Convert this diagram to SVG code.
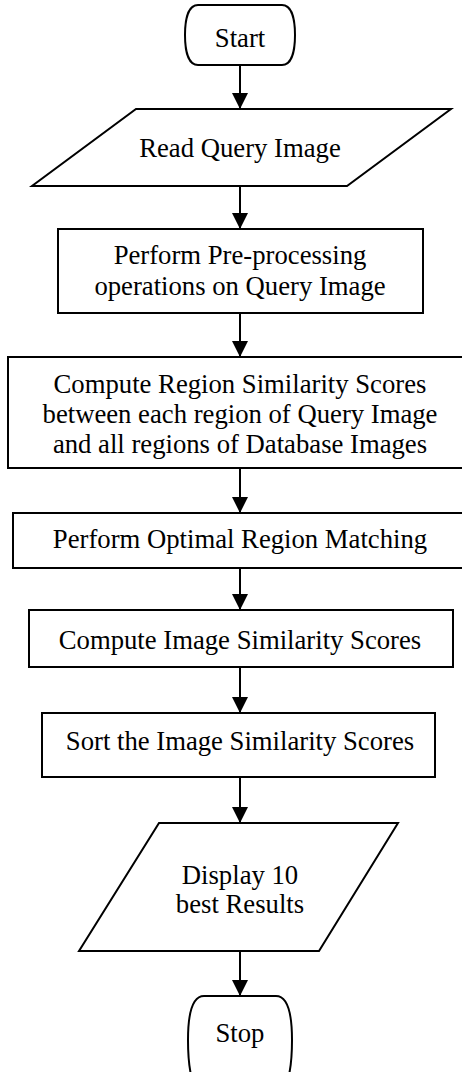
<svg xmlns="http://www.w3.org/2000/svg" width="462" height="1072" viewBox="0 0 462 1072">
<style>
.s{fill:#fff;stroke:#000;stroke-width:2}
.t{font-family:"Liberation Serif","Times New Roman",serif;font-size:26.7px;fill:#000;text-anchor:middle}
.c{stroke:#000;stroke-width:2;fill:none;marker-end:url(#ah)}
</style>
<defs>
<marker id="ah" markerUnits="userSpaceOnUse" markerWidth="18" markerHeight="16" refX="16" refY="8" orient="auto">
<path d="M0,0 L16,8 L0,16 Z" fill="#000"/>
</marker>
</defs>
<rect width="462" height="1072" fill="#fff"/>
<g id="connectors">
<line class="c" x1="240" y1="65" x2="240" y2="109"/>
<line class="c" x1="240" y1="186" x2="240" y2="229"/>
<line class="c" x1="240" y1="313" x2="240" y2="357"/>
<line class="c" x1="240" y1="468" x2="240" y2="513"/>
<line class="c" x1="240" y1="568" x2="240" y2="610"/>
<line class="c" x1="240" y1="667" x2="240" y2="713"/>
<line class="c" x1="240" y1="777" x2="240" y2="823"/>
<line class="c" x1="240" y1="951" x2="240" y2="996"/>
</g>
<g id="start">
<path class="s" d="M198,5 H282 C292,5 295,20 295,35 C295,50 292,65 282,65 H198 C188,65 185,50 185,35 C185,20 188,5 198,5 Z"/>
<text class="t" x="240" y="47">Start</text>
</g>
<g id="read">
<polygon class="s" points="136,109 451,109 347,186 32,186"/>
<text class="t" x="240" y="157">Read Query Image</text>
</g>
<g id="preprocess">
<rect class="s" x="58" y="229" width="365" height="84"/>
<text class="t" x="240" y="264">Perform Pre-processing</text>
<text class="t" x="240" y="295">operations on Query Image</text>
</g>
<g id="region-scores">
<rect class="s" x="8" y="357" width="470" height="111"/>
<text class="t" x="240" y="393">Compute Region Similarity Scores</text>
<text class="t" x="240" y="423">between each region of Query Image</text>
<text class="t" x="240" y="453">and all regions of Database Images</text>
</g>
<g id="matching">
<rect class="s" x="13" y="513" width="465" height="55"/>
<text class="t" x="240" y="548">Perform Optimal Region Matching</text>
</g>
<g id="image-scores">
<rect class="s" x="29" y="610" width="424" height="57"/>
<text class="t" x="240" y="649">Compute Image Similarity Scores</text>
</g>
<g id="sort">
<rect class="s" x="42" y="713" width="393" height="64"/>
<text class="t" x="240" y="750">Sort the Image Similarity Scores</text>
</g>
<g id="display">
<polygon class="s" points="159,823 398,823 319,951 79,951"/>
<text class="t" x="240" y="884">Display 10</text>
<text class="t" x="240" y="913">best Results</text>
</g>
<g id="stop">
<path class="s" d="M204,996 H276 C288,996 292,1015 292,1040 C292,1060 290,1075 286,1085 H194 C190,1075 188,1060 188,1040 C188,1015 192,996 204,996 Z"/>
<text class="t" x="240" y="1042">Stop</text>
</g>
</svg>
